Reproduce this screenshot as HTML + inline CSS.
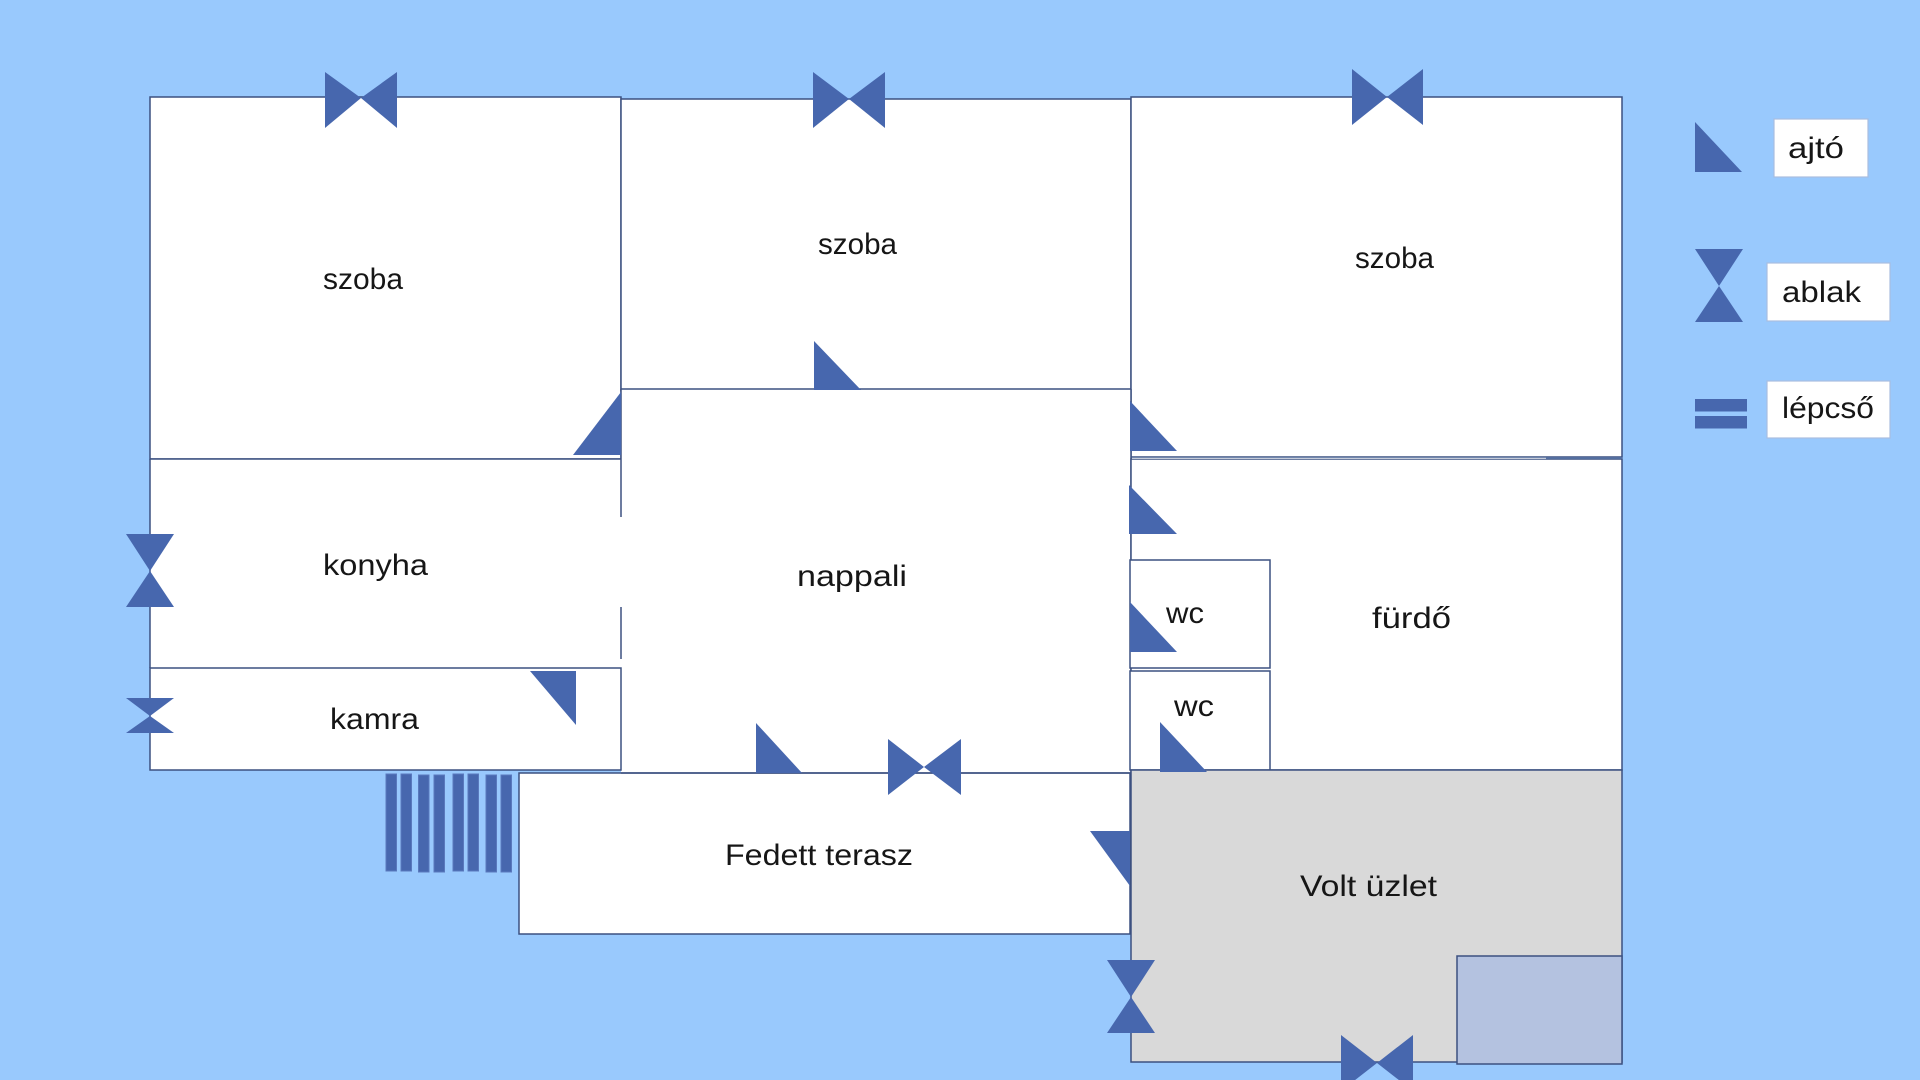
<!DOCTYPE html>
<html>
<head>
<meta charset="utf-8">
<style>
html,body{margin:0;padding:0;background:#99c9fd;}
svg{display:block;}
text{font-family:"Liberation Sans",Arial,sans-serif;font-size:30px;fill:#161616;}
</style>
</head>
<body>
<svg width="1920" height="1080" viewBox="0 0 1920 1080" xmlns="http://www.w3.org/2000/svg">
<rect x="0" y="0" width="1920" height="1080" fill="#99c9fd"/>

<g stroke="#3c5180" stroke-width="1.5">
  <!-- top rooms -->
  <rect x="150" y="97" width="471" height="362" fill="#fff"/>
  <rect x="621" y="99" width="510" height="291" fill="#fff"/>
  <rect x="1131" y="97" width="491" height="360" fill="#fff"/>
  <!-- kitchen (fill + edges with gap on right) -->
  <rect x="150" y="459" width="471" height="209" fill="#fff" stroke="none"/>
  <!-- nappali -->
  <rect x="621" y="389" width="510" height="384" fill="#fff" stroke="none"/>
  <line x1="150" y1="459" x2="621" y2="459"/>
  <line x1="150" y1="459" x2="150" y2="668"/>
  <line x1="621" y1="389" x2="1131" y2="389"/>
  <line x1="1131" y1="389" x2="1131" y2="773"/>
  <line x1="621" y1="389" x2="621" y2="517"/>
  <line x1="621" y1="607" x2="621" y2="659"/>
  <!-- kamra -->
  <rect x="150" y="668" width="471" height="102" fill="#fff"/>
  <!-- terrace -->
  <rect x="519" y="773" width="611" height="161" fill="#fff"/>
  <line x1="621" y1="773" x2="1131" y2="773"/>
  <!-- fürdő -->
  <rect x="1131" y="459" width="491" height="311" fill="#fff"/>
  <!-- wc boxes -->
  <rect x="1130" y="560" width="140" height="108" fill="#fff"/>
  <rect x="1130" y="671" width="140" height="99" fill="#fff"/>
  <!-- volt üzlet -->
  <rect x="1131" y="770" width="491" height="292" fill="#d9d9d9"/>
  <rect x="1457" y="956" width="165" height="108" fill="#b4c2e0"/>
</g>
<!-- white filler between szoba3 and fürdő -->
<rect x="1132" y="457.8" width="414" height="0.9" fill="#fff"/>

<!-- stairs -->
<g fill="#4767ae" stroke="#5a79bd" stroke-width="1">
  <rect x="386" y="774" width="10.5" height="97"/>
  <rect x="401" y="774" width="10.5" height="97"/>
  <rect x="418.5" y="775" width="10.5" height="97"/>
  <rect x="434" y="775" width="10.5" height="97"/>
  <rect x="453" y="774" width="10.5" height="97"/>
  <rect x="468" y="774" width="10.5" height="97"/>
  <rect x="486" y="775" width="10.5" height="97"/>
  <rect x="501" y="775" width="10.5" height="97"/>
</g>

<!-- windows & doors -->
<g fill="#4767ae">
  <!-- horizontal bowties -->
  <polygon points="325,72 325,128 361,98"/><polygon points="397,72 397,128 361,98"/>
  <polygon points="813,72 813,128 849,99"/><polygon points="885,72 885,128 849,99"/>
  <polygon points="1352,69 1352,125 1387,97"/><polygon points="1423,69 1423,125 1387,97"/>
  <polygon points="888,739 888,795 924,767"/><polygon points="961,739 961,795 924,767"/>
  <polygon points="1341,1035 1341,1091 1377,1063"/><polygon points="1413,1035 1413,1091 1377,1063"/>
  <!-- vertical hourglasses -->
  <polygon points="126,534 174,534 150,571"/><polygon points="126,607 174,607 150,571"/>
  <polygon points="126,698 174,698 150,716"/><polygon points="126,733 174,733 150,716"/>
  <polygon points="1107,960 1155,960 1131,997"/><polygon points="1107,1033 1155,1033 1131,997"/>
  <polygon points="1695,249 1743,249 1719,286"/><polygon points="1695,322 1743,322 1719,286"/>
  <!-- doors -->
  <polygon points="573,455 621,455 621,392"/>
  <polygon points="814,390 814,341 861,390"/>
  <polygon points="1130,401 1130,451 1177,451"/>
  <polygon points="1129,485 1129,534 1177,534"/>
  <polygon points="1130,602 1130,652 1177,652"/>
  <polygon points="1160,722 1160,772 1207,772"/>
  <polygon points="530,671 576,671 576,725"/>
  <polygon points="756,723 756,773 802,773"/>
  <polygon points="1090,831 1130,831 1130,886"/>
  <polygon points="1695,122 1695,172 1742,172"/>
  <!-- stair legend -->
  <rect x="1695" y="399" width="52" height="12.5"/>
  <rect x="1695" y="416" width="52" height="12.5"/>
</g>

<!-- legend boxes -->
<g fill="#fff" stroke="#a9bde0" stroke-width="1.2">
  <rect x="1774" y="119" width="94" height="58"/>
  <rect x="1767" y="263" width="123" height="58"/>
  <rect x="1767" y="381" width="123" height="57"/>
</g>

<!-- labels -->
<text x="323" y="289" textLength="80" lengthAdjust="spacingAndGlyphs">szoba</text>
<text x="818" y="254" textLength="79" lengthAdjust="spacingAndGlyphs">szoba</text>
<text x="1355" y="268" textLength="79" lengthAdjust="spacingAndGlyphs">szoba</text>
<text x="323" y="575" textLength="105" lengthAdjust="spacingAndGlyphs">konyha</text>
<text x="330" y="729" textLength="89" lengthAdjust="spacingAndGlyphs">kamra</text>
<text x="797" y="586" textLength="110" lengthAdjust="spacingAndGlyphs">nappali</text>
<text x="1166" y="623" textLength="38" lengthAdjust="spacingAndGlyphs">wc</text>
<text x="1174" y="716" textLength="40" lengthAdjust="spacingAndGlyphs">wc</text>
<text x="1372" y="628" textLength="79" lengthAdjust="spacingAndGlyphs">fürdő</text>
<text x="725" y="865" textLength="188" lengthAdjust="spacingAndGlyphs">Fedett terasz</text>
<text x="1300" y="896" textLength="137" lengthAdjust="spacingAndGlyphs">Volt üzlet</text>
<text x="1788" y="158" textLength="56" lengthAdjust="spacingAndGlyphs">ajtó</text>
<text x="1782" y="302" textLength="79" lengthAdjust="spacingAndGlyphs">ablak</text>
<text x="1782" y="418" textLength="92" lengthAdjust="spacingAndGlyphs">lépcső</text>
</svg>
</body>
</html>
